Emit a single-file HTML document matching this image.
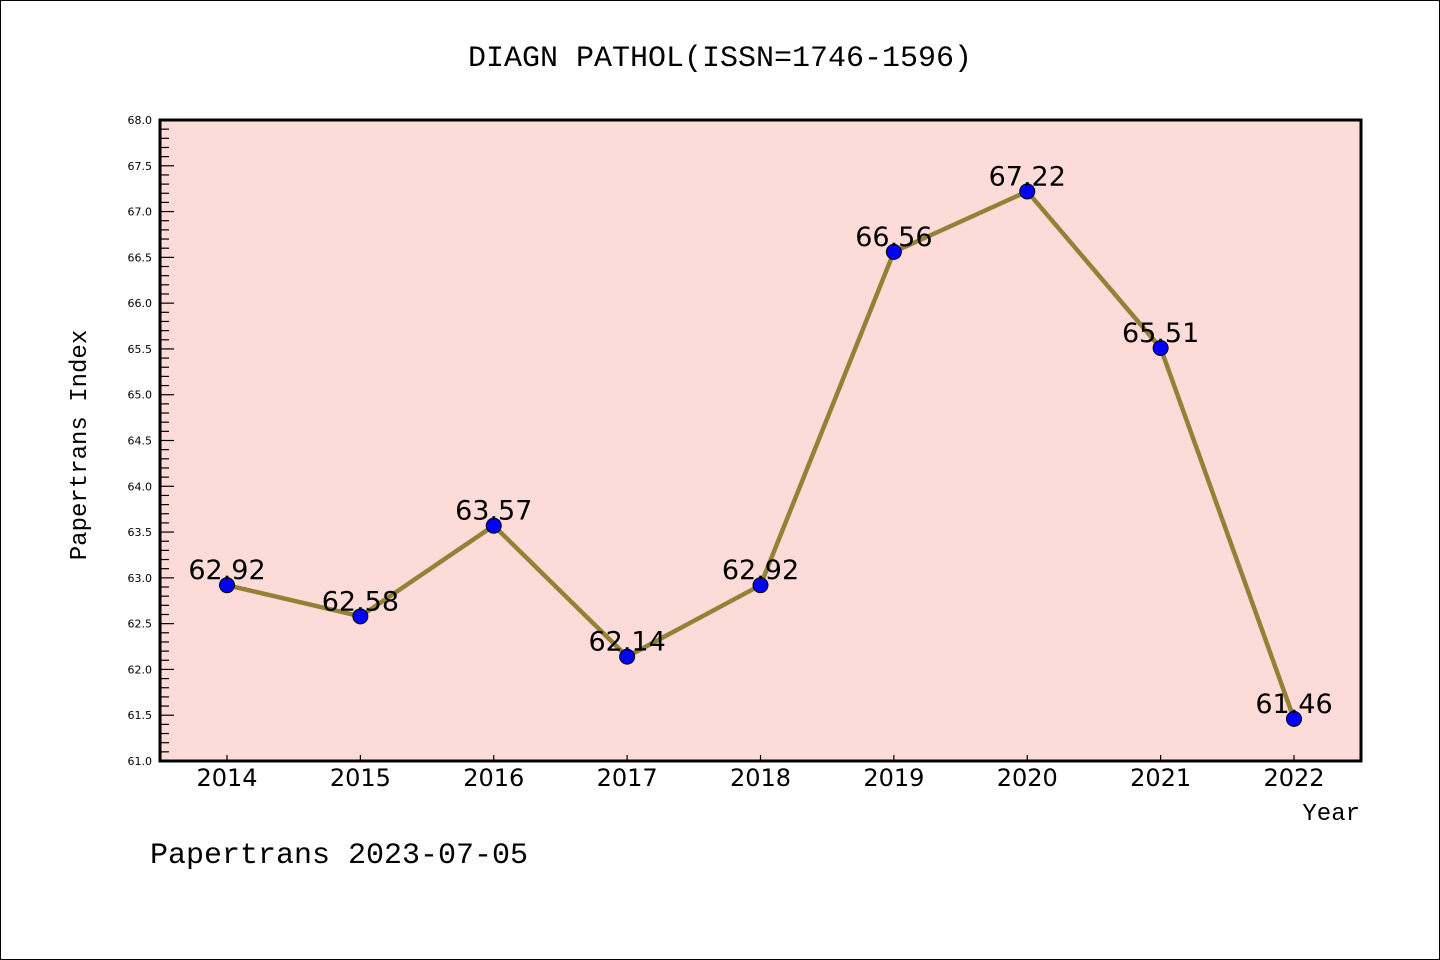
<!DOCTYPE html>
<html><head><meta charset="utf-8"><style>
body{margin:0;background:#fff}
svg{display:block;font-family:"Liberation Mono","DejaVu Sans Mono",monospace}
</style></head><body>
<svg id="c" width="1440" height="960">
<rect x="0.5" y="0.5" width="1439" height="959" fill="#fff" stroke="#000"/>
<text x="720" y="66" text-anchor="middle" font-size="30">DIAGN PATHOL(ISSN=1746-1596)</text>
<rect x="160" y="120" width="1201" height="641" fill="#fddbd8"/>
<g id="yt"></g><g id="xt"></g><g id="ser"></g>
<rect x="160" y="120" width="1201" height="641" fill="none" stroke="#000" stroke-width="3"/>
<text x="86" y="445" transform="rotate(-90 86 445)" text-anchor="middle" font-size="24">Papertrans Index</text>
<text x="1360" y="820" text-anchor="end" font-size="24">Year</text>
<text x="150" y="863" font-size="30">Papertrans 2023-07-05</text>
</svg>
<script>
const years=[2014,2015,2016,2017,2018,2019,2020,2021,2022];
const values=[62.92,62.58,63.57,62.14,62.92,66.56,67.22,65.51,61.46];
const yTicks=[61.0,61.5,62.0,62.5,63.0,63.5,64.0,64.5,65.0,65.5,66.0,66.5,67.0,67.5,68.0];
const NS='http://www.w3.org/2000/svg';
const yMin=61,yMax=68,pTop=120,pBot=761;
const ys=v=>pBot-(v-yMin)/(yMax-yMin)*(pBot-pTop);
const xs=y=>227+(y-2014)*(1294-227)/8;
function mk(t,a,p){const e=document.createElementNS(NS,t);for(const k in a)e.setAttribute(k,a[k]);p.appendChild(e);return e;}
const yt=document.getElementById('yt'),xt=document.getElementById('xt'),ser=document.getElementById('ser');
for(let i=0;i<=70;i++){const v=yMin+i*0.1;const y=ys(v);const major=i%5===0;
 const l=mk('line',{x1:160,x2:160+(major?14:9),y1:y,y2:y,stroke:'#000','stroke-width':1.2},yt);
 
 }
yTicks.forEach(v=>{const t=mk('text',{x:152,y:ys(v)+4,'text-anchor':'end','font-size':11,'font-family':'DejaVu Sans, sans-serif'},yt);t.textContent=v.toFixed(1);
 
 });
years.forEach(yr=>{const x=xs(yr);
 const l=mk('line',{x1:x,x2:x,y1:pBot,y2:pBot-6,stroke:'#000','stroke-width':1.2},xt);
 
 
 const t=mk('text',{x:x,y:786,'text-anchor':'middle','font-size':24,'font-family':'DejaVu Sans, sans-serif'},xt);t.textContent=yr;
 
 });
const pl=mk('polyline',{points:years.map((y,i)=>xs(y)+','+ys(values[i])).join(' '),fill:'none',stroke:'#938236','stroke-width':4.5,'stroke-linejoin':'round'},ser);


years.forEach((yr,i)=>{
 const c=mk('circle',{cx:xs(yr),cy:ys(values[i]),r:7.5,fill:'#0000ff',stroke:'#000','stroke-width':1},ser);
 
 
 const t=mk('text',{x:xs(yr),y:ys(values[i])-6,'text-anchor':'middle','font-size':27,'font-family':'DejaVu Sans, sans-serif'},ser);
 t.textContent=values[i].toFixed(2);
 
 });
</script>
</body></html>
